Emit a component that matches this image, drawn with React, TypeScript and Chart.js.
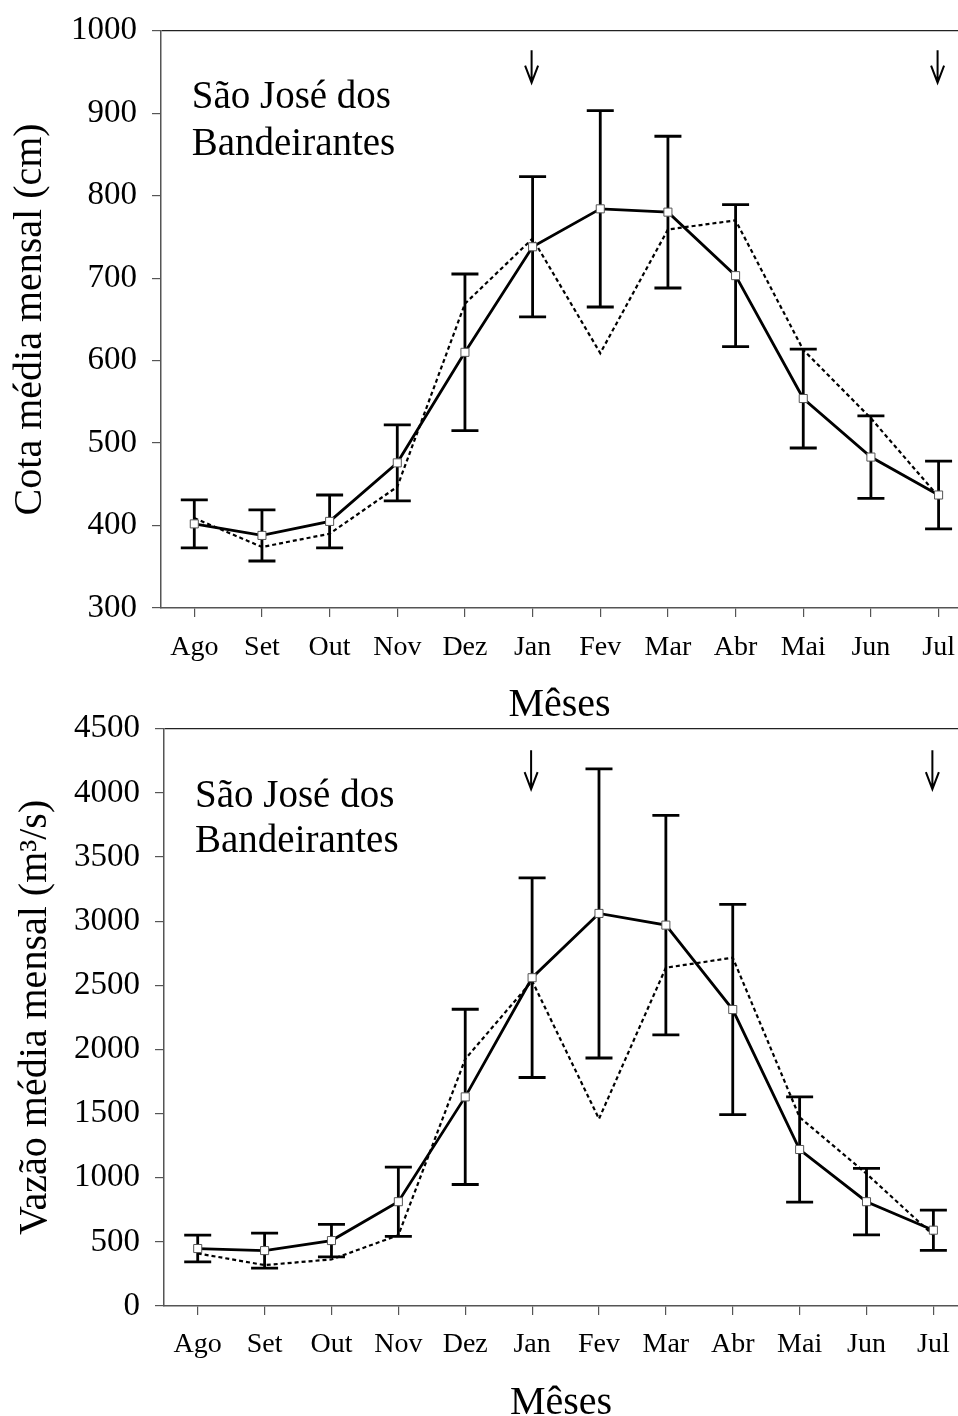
import React, { useEffect, useRef } from 'react';
import { Chart, registerables } from 'chart.js';

Chart.register(...registerables);

// ---------- data ----------
const months = ['Ago', 'Set', 'Out', 'Nov', 'Dez', 'Jan', 'Fev', 'Mar', 'Abr', 'Mai', 'Jun', 'Jul'];
const arrowMonths = ['Jan', 'Jul'];
const stationLines = ['São José dos', 'Bandeirantes'];
const xTitle = 'Mêses';

// Panel 1: Cota média mensal (cm)
const cotaTitle = 'Cota média mensal (cm)';
const cotaMean = [402, 388, 405, 476, 610, 738, 784, 780, 703, 554, 483, 437];
const cotaSd = [29, 31, 32, 46, 95, 85, 119, 92, 86, 60, 50, 41];
const cotaDotted = [409, 374, 390, 447, 669, 748, 609, 759, 770, 613, 530, 435];
const cotaMin = 300;
const cotaMax = 1000;
const cotaStep = 100;

// Panel 2: Vazão média mensal (m³/s)
const vazaoTitle = 'Vazão média mensal (m³/s)';
const vazaoMean = [448, 432, 510, 813, 1630, 2559, 3060, 2969, 2311, 1220, 813, 591];
const vazaoSd = [104, 136, 127, 270, 683, 778, 1127, 855, 820, 410, 259, 157];
const vazaoDotted = [410, 319, 363, 552, 1925, 2534, 1459, 2637, 2715, 1471, 1031, 552];
const vazaoMin = 0;
const vazaoMax = 4500;
const vazaoStep = 500;

// ---------- styling ----------
const FAMILY = "'Liberation Serif', 'Times New Roman', Times, serif";
const AXIS_COLOR = '#555';

type PanelCfg = {
  mean: number[];
  sd: number[];
  dotted: number[];
  yMin: number;
  yMax: number;
  yStep: number;
  yTitle: string;
  canvasTop: number;
  height: number;
  axisLeft: number;
  areaTop: number;
  areaBottom: number;
  xMin: number;
  xMax: number;
  yTitleMiddle: number;
  xLabelPad: number;
  arrowFrom: number;
  arrowTo: number;
  textDX: number;
  textDY: number;
  textGap: number;
};

function makeOverlay(p: PanelCfg) {
  return {
    id: 'overlay',
    beforeDatasetsDraw(chart: any) {
      const { ctx, scales } = chart;
      const x = scales.x;
      const y = scales.y;
      ctx.save();
      ctx.strokeStyle = '#000';
      ctx.lineWidth = 2.8;
      ctx.lineCap = 'butt';
      p.mean.forEach((m, i) => {
        const px = x.getPixelForValue(i);
        const yt = y.getPixelForValue(m + p.sd[i]);
        const yb = y.getPixelForValue(m - p.sd[i]);
        ctx.beginPath();
        ctx.moveTo(px, yt);
        ctx.lineTo(px, yb);
        ctx.moveTo(px - 13.5, yt);
        ctx.lineTo(px + 13.5, yt);
        ctx.moveTo(px - 13.5, yb);
        ctx.lineTo(px + 13.5, yb);
        ctx.stroke();
      });
      ctx.restore();
    },
    afterDraw(chart: any) {
      const { ctx, scales, chartArea } = chart;
      const x = scales.x;
      ctx.save();
      // arrows
      ctx.strokeStyle = '#000';
      ctx.lineWidth = 2;
      arrowMonths.forEach((m) => {
        const idx = months.indexOf(m);
        const px = x.getPixelForValue(idx) - 1;
        const y0 = chartArea.top + p.arrowFrom;
        const y1 = chartArea.top + p.arrowTo;
        ctx.beginPath();
        ctx.moveTo(px, y0);
        ctx.lineTo(px, y1);
        ctx.moveTo(px - 6.5, y1 - 17);
        ctx.lineTo(px, y1);
        ctx.lineTo(px + 6.5, y1 - 17);
        ctx.stroke();
      });
      // station label
      ctx.fillStyle = '#000';
      ctx.font = `39px ${FAMILY}`;
      ctx.textAlign = 'left';
      ctx.textBaseline = 'alphabetic';
      stationLines.forEach((t, i) => {
        ctx.fillText(t, chartArea.left + p.textDX, chartArea.top + p.textDY + i * p.textGap);
      });
      ctx.restore();
    },
  };
}

function buildConfig(p: PanelCfg): any {
  return {
    type: 'line',
    data: {
      datasets: [
        {
          data: p.mean.map((v, i) => ({ x: i, y: v })),
          borderColor: '#000',
          borderWidth: 2.8,
          pointStyle: 'rect',
          pointRadius: 5.7,
          pointBackgroundColor: '#fff',
          pointBorderColor: '#555',
          pointBorderWidth: 1,
          tension: 0,
          order: 0,
        },
        {
          data: p.dotted.map((v, i) => ({ x: i, y: v })),
          borderColor: '#000',
          borderWidth: 2.2,
          borderDash: [4, 3],
          pointRadius: 0,
          tension: 0,
          order: 1,
        },
      ],
    },
    options: {
      responsive: false,
      animation: false,
      devicePixelRatio: 1,
      events: [],
      layout: { autoPadding: false, padding: { top: p.areaTop, right: 0, bottom: 0, left: 0 } },
      plugins: { legend: { display: false }, tooltip: { enabled: false } },
      scales: {
        x: {
          type: 'linear',
          min: p.xMin,
          max: p.xMax,
          afterBuildTicks: (s: any) => {
            s.ticks = months.map((_, i) => ({ value: i }));
          },
          afterFit: (s: any) => {
            s.height = p.height - p.areaBottom;
            s.paddingLeft = 0;
            s.paddingRight = 0;
          },
          ticks: {
            callback: (v: number) => months[v] ?? '',
            font: { family: FAMILY, size: 28 },
            color: '#000',
            padding: p.xLabelPad,
            maxRotation: 0,
            autoSkip: false,
          },
          grid: { drawOnChartArea: false, tickLength: 9, color: AXIS_COLOR, lineWidth: 1.2 },
          border: { color: AXIS_COLOR, width: 1.5 },
          title: {
            display: true,
            text: xTitle,
            font: { family: FAMILY, size: 40 },
            color: '#000',
            padding: 0,
          },
        },
        y: {
          min: p.yMin,
          max: p.yMax,
          afterFit: (s: any) => {
            s.width = p.axisLeft;
            s.paddingTop = 0;
            s.paddingBottom = 0;
          },
          ticks: {
            stepSize: p.yStep,
            callback: (v: number) => String(v),
            font: { family: FAMILY, size: 33 },
            color: '#000',
            padding: 15,
          },
          grid: {
            color: (c: any) => (c.tick && c.tick.value === p.yMax ? '#222' : 'rgba(0,0,0,0)'),
            tickColor: AXIS_COLOR,
            tickLength: 9,
            lineWidth: 1.2,
          },
          border: { color: AXIS_COLOR, width: 1.5 },
          title: {
            display: true,
            text: p.yTitle,
            font: { family: FAMILY, size: 40 },
            color: '#000',
            padding: { top: p.yTitleMiddle - 24, bottom: 0 },
          },
        },
      },
    },
    plugins: [makeOverlay(p)],
  };
}

const topPanel: PanelCfg = {
  mean: cotaMean,
  sd: cotaSd,
  dotted: cotaDotted,
  yMin: cotaMin,
  yMax: cotaMax,
  yStep: cotaStep,
  yTitle: cotaTitle,
  canvasTop: 0,
  height: 729,
  axisLeft: 161,
  areaTop: 30.7,
  areaBottom: 608,
  xMin: -0.492,
  xMax: 11.287,
  yTitleMiddle: 30,
  xLabelPad: 14,
  arrowFrom: 19.5,
  arrowTo: 52,
  textDX: 30.7,
  textDY: 77.3,
  textGap: 46.7,
};

const bottomPanel: PanelCfg = {
  mean: vazaoMean,
  sd: vazaoSd,
  dotted: vazaoDotted,
  yMin: vazaoMin,
  yMax: vazaoMax,
  yStep: vazaoStep,
  yTitle: vazaoTitle,
  canvasTop: 708,
  height: 719,
  axisLeft: 164,
  areaTop: 20.7,
  areaBottom: 598,
  xMin: -0.504,
  xMax: 11.368,
  yTitleMiddle: 35,
  xLabelPad: 13,
  arrowFrom: 21.5,
  arrowTo: 60.5,
  textDX: 31,
  textDY: 78,
  textGap: 45,
};

function Panel({ cfg }: { cfg: PanelCfg }) {
  const ref = useRef<HTMLCanvasElement>(null);
  useEffect(() => {
    if (!ref.current) return;
    const chart = new Chart(ref.current, buildConfig(cfg));
    return () => chart.destroy();
  }, [cfg]);
  return (
    <canvas
      ref={ref}
      width={958}
      height={cfg.height}
      style={{ position: 'absolute', left: 0, top: cfg.canvasTop, width: 958, height: cfg.height }}
    />
  );
}

export default function App() {
  return (
    <div
      style={{
        position: 'absolute',
        left: 0,
        top: 0,
        width: 958,
        height: 1416,
        overflow: 'hidden',
        background: '#fff',
      }}
    >
      <Panel cfg={topPanel} />
      <Panel cfg={bottomPanel} />
    </div>
  );
}
